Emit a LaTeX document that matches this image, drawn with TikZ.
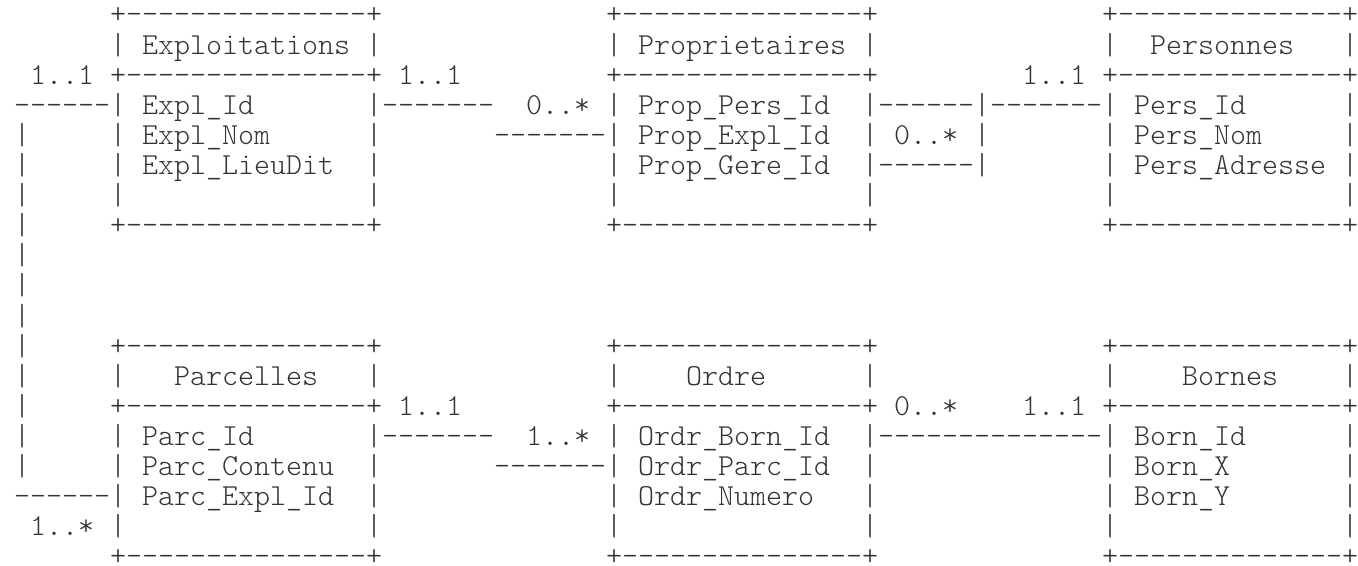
\documentclass[tikz,border=0pt]{standalone}
\usepackage{fontspec}
\newfontfamily\asciifont[Ligatures=TeXOff]{lmmonolt10-regular.otf}
\definecolor{inkCol}{HTML}{333333}

\begin{document}
\begin{tikzpicture}[
    x=12pt, y=-22.58pt,
    % Text styles
    ascii/.style={
        anchor=base west,
        inner sep=0pt,
        outer sep=0pt,
        font=\asciifont\fontsize{22.857pt}{22.58pt}\selectfont,
        text=inkCol
    },
    mult/.style={ascii}
]
    \useasboundingbox (-10.65pt,18pt) rectangle ++(1018.5pt,-424.5pt);

    % ==== TOP TABLES ====
    \foreach \txt [count=\i from 0] in {
        +---------------+,
        |~Exploitations~|,
        +---------------+,
        |~Expl\_Id~~~~~~~|,
        |~Expl\_Nom~~~~~~|,
        |~Expl\_LieuDit~~|,
        |~~~~~~~~~~~~~~~|,
        +---------------+}
        \node[ascii] (expl\i) at (6,\i) {\txt};

    \foreach \txt [count=\i from 0] in {
        +---------------+,
        |~Proprietaires~|,
        +---------------+,
        |~Prop\_Pers\_Id~~|,
        |~Prop\_Expl\_Id~~|,
        |~Prop\_Gere\_Id~~|,
        |~~~~~~~~~~~~~~~|,
        +---------------+}
        \node[ascii] (prop\i) at (37,\i) {\txt};

    \foreach \txt [count=\i from 0] in {
        +--------------+,
        |~~Personnes~~~|,
        +--------------+,
        |~Pers\_Id~~~~~~|,
        |~Pers\_Nom~~~~~|,
        |~Pers\_Adresse~|,
        |~~~~~~~~~~~~~~|,
        +--------------+}
        \node[ascii] (pers\i) at (68,\i) {\txt};

    % ==== BOTTOM TABLES ====
    \foreach \txt [count=\i from 0] in {
        +---------------+,
        |~~~Parcelles~~~|,
        +---------------+,
        |~Parc\_Id~~~~~~~|,
        |~Parc\_Contenu~~|,
        |~Parc\_Expl\_Id~~|,
        |~~~~~~~~~~~~~~~|,
        +---------------+}
        \node[ascii] (parc\i) at (6,11+\i) {\txt};

    \foreach \txt [count=\i from 0] in {
        +---------------+,
        |~~~~Ordre~~~~~~|,
        +---------------+,
        |~Ordr\_Born\_Id~~|,
        |~Ordr\_Parc\_Id~~|,
        |~Ordr\_Numero~~~|,
        |~~~~~~~~~~~~~~~|,
        +---------------+}
        \node[ascii] (ordr\i) at (37,11+\i) {\txt};

    \foreach \txt [count=\i from 0] in {
        +--------------+,
        |~~~~Bornes~~~~|,
        +--------------+,
        |~Born\_Id~~~~~~|,
        |~Born\_X~~~~~~~|,
        |~Born\_Y~~~~~~~|,
        |~~~~~~~~~~~~~~|,
        +--------------+}
        \node[ascii] (born\i) at (68,11+\i) {\txt};

    % ==== CONNECTORS ====

    % Exploitations -> Parcelles
    \node[mult] (m-expl-parc) at (1,2) {1..1};
    \node[ascii] (c-expl-parc-a) at (0,3) {------};
    \foreach \r in {4,...,15}
        \node[ascii] (c-expl-parc-\r) at (0,\r) {|};
    \node[ascii] (c-expl-parc-b) at (0,16) {------};
    \node[mult] (m-parc-expl) at (1,17) {1..*};

    % Exploitations -> Proprietaires
    \node[mult] (m-expl-prop) at (24,2) {1..1};
    \node[ascii] (c-expl-prop-a) at (23,3) {-------};
    \node[mult] (m-prop-expl) at (32,3) {0..*};
    \node[ascii] (c-expl-prop-b) at (30,4) {-------};

    % Proprietaires -> Personnes
    \node[mult] (m-pers-prop) at (63,2) {1..1};
    \node[ascii] (c-prop-pers-a) at (54,3) {------|-------};
    \node[mult] (m-prop-pers) at (55,4) {0..*};
    \node[ascii] (c-prop-pers-b) at (60,4) {|};
    \node[ascii] (c-prop-pers-c) at (54,5) {------|};

    % Parcelles -> Ordre
    \node[mult] (m-parc-ordr) at (24,13) {1..1};
    \node[ascii] (c-parc-ordr-a) at (23,14) {-------};
    \node[mult] (m-ordr-parc) at (32,14) {1..*};
    \node[ascii] (c-parc-ordr-b) at (30,15) {-------};

    % Ordre -> Bornes
    \node[mult] (m-ordr-born) at (55,13) {0..*};
    \node[mult] (m-born-ordr) at (63,13) {1..1};
    \node[ascii] (c-ordr-born) at (54,14) {--------------};

\end{tikzpicture}
\end{document}
